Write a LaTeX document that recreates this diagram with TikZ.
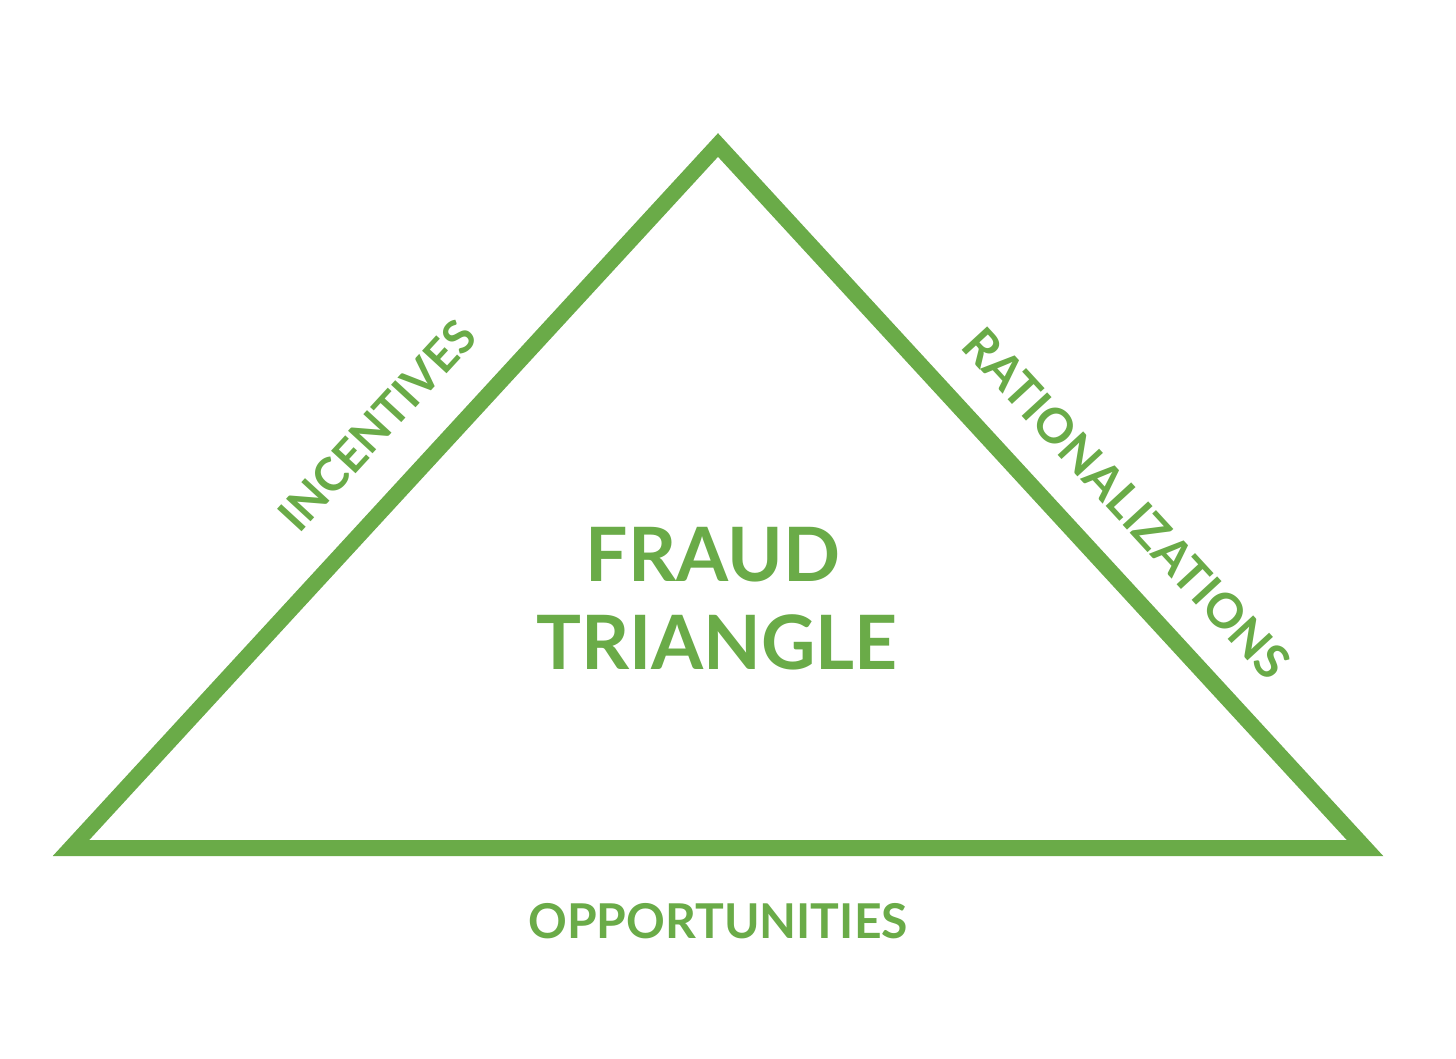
\documentclass[tikz,border=0pt]{standalone}
\usepackage{fontspec}
\setmainfont{Lato}
\definecolor{fgreen}{RGB}{106,171,72}
\begin{document}
\begin{tikzpicture}[x=1pt,y=-1pt,
  lbl/.style={text=fgreen,inner sep=0pt,font=\fontsize{48}{58}\selectfont\bfseries},
  big/.style={text=fgreen,inner sep=0pt,anchor=base,font=\fontsize{75}{88}\selectfont\bfseries}]
\useasboundingbox[fill=white] (0,0) rectangle (1456,1058);
\coordinate (L) at (71,848);
\coordinate (T) at (718,145);
\coordinate (R) at (1365,848);
\draw[fgreen,line width=16pt,line join=miter] (L) -- (T) -- (R) -- cycle;
\node[big] (fraud) at (713,581) {FRAUD};
\node[big] (tri) at (717,669) {TRIANGLE};
\node[lbl,anchor=base] (opp) at (718,938) {OPPORTUNITIES};
\node[lbl,anchor=base west,rotate=47.4,font=\fontsize{46}{56}\selectfont\bfseries] (inc) at (299,535) {INCENTIVES};
\node[lbl,anchor=base west,rotate=-47.4] (rat) at (959,347) {RATIONALIZATIONS};
\end{tikzpicture}
\end{document}
